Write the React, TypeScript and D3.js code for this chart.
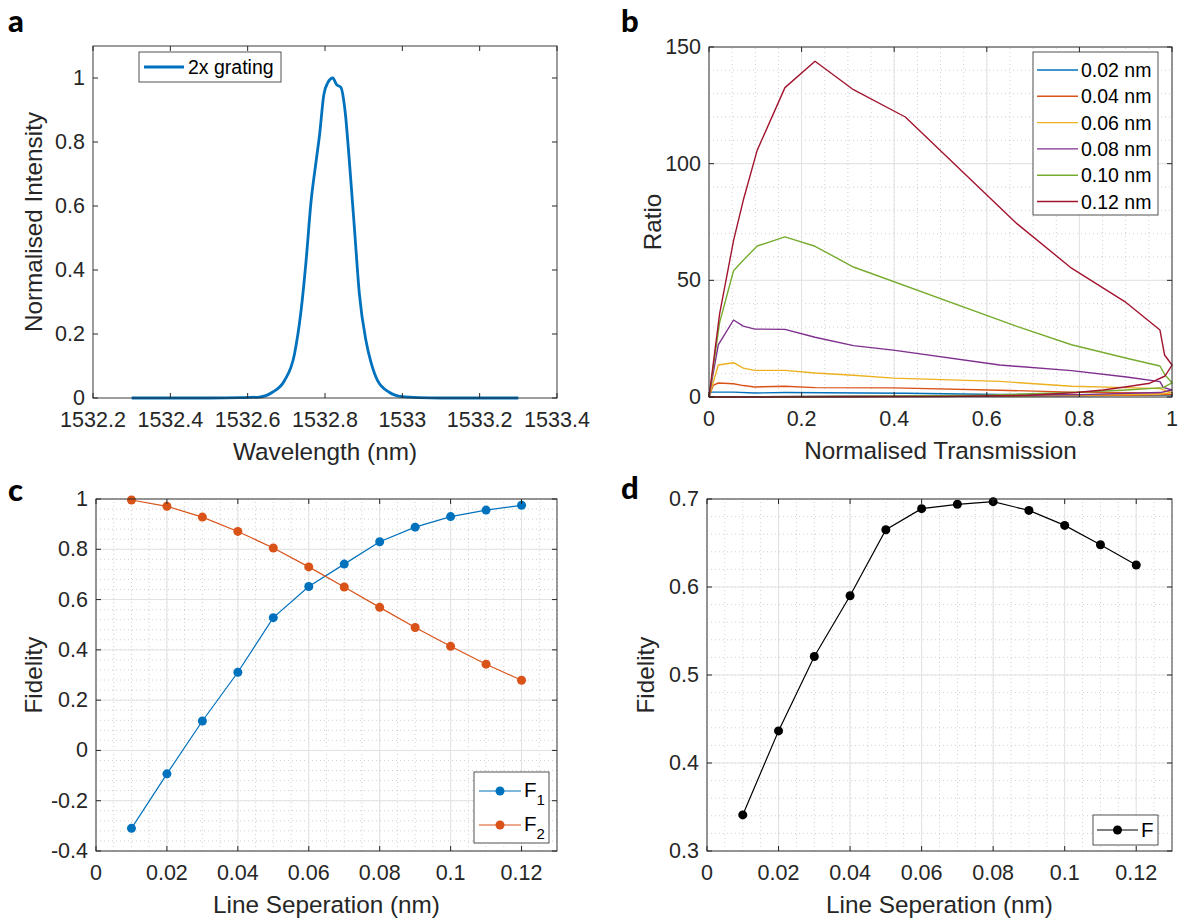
import React, { useRef, useEffect } from 'react'
import * as d3 from 'd3'

const W = 1180
const H = 924
const FONT = "Arial, 'Liberation Sans', Helvetica, sans-serif"
const INK = '#262626'

// ---- panel a: spectrum of the 2x grating
const wavelength = [
  1532.3, 1532.4, 1532.5, 1532.58, 1532.63, 1532.664, 1532.695, 1532.721, 1532.738, 1532.751,
  1532.764, 1532.777, 1532.786, 1532.797, 1532.807, 1532.82, 1532.83, 1532.841, 1532.852,
  1532.863, 1532.876, 1532.889, 1532.906, 1532.919, 1532.936, 1532.966, 1533.0, 1533.043,
  1533.1, 1533.2, 1533.3,
]
const intensity = [
  0, 0, 0, 0.001, 0.003, 0.018, 0.054, 0.137, 0.272, 0.428, 0.615, 0.74, 0.823, 0.948, 0.985,
  1.0, 0.979, 0.971, 0.896, 0.74, 0.532, 0.324, 0.179, 0.111, 0.054, 0.018, 0.004, 0.001, 0, 0, 0,
]
const aXTicks = [1532.2, 1532.4, 1532.6, 1532.8, 1533, 1533.2, 1533.4]
const aYTicks = [0, 0.2, 0.4, 0.6, 0.8, 1]

// ---- panel b: ratio vs normalised transmission, one loop per line separation
const trans002 = [0, 0.004, 0.053, 0.099, 0.164, 0.424, 0.628, 1.0, 0.8, 0.4, 0]
const ratio002 = [0, 2.1, 2.1, 1.7, 1.9, 1.6, 1.1, 0.8, 0.6, 0.3, 0]
const trans004 = [0, 0.009, 0.02, 0.053, 0.074, 0.099, 0.164, 0.229, 0.398, 0.628, 0.783, 0.974, 1.0, 0.9, 0.5, 0]
const ratio004 = [0, 5.0, 6.0, 5.7, 4.9, 4.3, 4.6, 4.0, 3.9, 2.9, 2.1, 1.7, 1.0, 0.7, 0.3, 0]
const trans006 = [0, 0.02, 0.053, 0.074, 0.099, 0.164, 0.229, 0.312, 0.398, 0.628, 0.783, 0.902, 0.974, 1.0, 0.97, 0.7, 0.3, 0]
const ratio006 = [0, 13.7, 14.7, 12.4, 11.4, 11.4, 10.3, 9.3, 8.1, 6.7, 4.6, 4.0, 3.6, 1.9, 1.2, 0.6, 0.2, 0]
const trans008 = [0, 0.02, 0.053, 0.074, 0.099, 0.164, 0.229, 0.312, 0.398, 0.628, 0.783, 0.902, 0.974, 0.981, 1.0, 0.974, 0.8, 0.5, 0]
const ratio008 = [0, 22.3, 33.0, 30.4, 29.1, 29.0, 25.6, 22.0, 20.1, 13.7, 11.3, 8.6, 6.6, 4.1, 3.0, 1.9, 1.0, 0.4, 0]
const trans010 = [0, 0.023, 0.053, 0.074, 0.104, 0.164, 0.229, 0.312, 0.665, 0.783, 0.902, 0.974, 0.985, 1.0, 0.981, 0.902, 0.783, 0.6, 0.3, 0]
const ratio010 = [0, 32, 54.1, 58.6, 64.7, 68.6, 64.6, 55.7, 30.3, 22.4, 16.6, 13.3, 9.4, 6.1, 4.0, 3.0, 1.9, 0.8, 0.2, 0]
const trans012 = [0, 0.023, 0.053, 0.074, 0.104, 0.164, 0.229, 0.312, 0.424, 0.665, 0.783, 0.898, 0.974, 0.984, 1.0, 0.985, 0.952, 0.902, 0.851, 0.794, 0.686, 0.5, 0.2, 0]
const ratio012 = [0, 35.7, 67, 84.3, 105.7, 132.6, 143.9, 131.7, 120, 74.3, 55.2, 40.9, 28.7, 18, 13.7, 9, 5.9, 4.4, 3.0, 1.9, 0.7, 0.2, 0.05, 0]
const bLabels = ['0.02 nm', '0.04 nm', '0.06 nm', '0.08 nm', '0.10 nm', '0.12 nm']
const bColors = ['#0072BD', '#D95319', '#EDB120', '#7E2F8E', '#77AC30', '#A2142F']
const bXTicks = [0, 0.2, 0.4, 0.6, 0.8, 1]
const bYTicks = [0, 50, 100, 150]

// ---- panels c & d: fidelity vs line separation
const separation = [0.01, 0.02, 0.03, 0.04, 0.05, 0.06, 0.07, 0.08, 0.09, 0.1, 0.11, 0.12]
const fidelity1 = [-0.31, -0.093, 0.117, 0.311, 0.528, 0.652, 0.741, 0.83, 0.888, 0.93, 0.956, 0.975]
const fidelity2 = [0.996, 0.971, 0.928, 0.871, 0.805, 0.73, 0.65, 0.569, 0.489, 0.414, 0.343, 0.279]
const fidelity = [0.341, 0.4365, 0.521, 0.59, 0.665, 0.689, 0.694, 0.697, 0.687, 0.67, 0.648, 0.625]
const sepTicks = [0, 0.02, 0.04, 0.06, 0.08, 0.1, 0.12]
const cYTicks = [-0.4, -0.2, 0, 0.2, 0.4, 0.6, 0.8, 1]
const dYTicks = [0.3, 0.4, 0.5, 0.6, 0.7]

const TICK_FS = 21.5
const LABEL_FS = 24.3
const LEGEND_FS = 19.5

const fmt = (v: number) => String(+v.toFixed(6))

type Frame = {
  x: d3.ScaleLinear<number, number>
  y: d3.ScaleLinear<number, number>
  xTicks: number[]
  yTicks: number[]
  xMinor?: number
  yMinor?: number
  xLabel: string
  yLabel: string
  yLabelX: number
}

function drawGrid(svg: any, f: Frame) {
  const [x0, x1] = f.x.range()
  const [y0, y1] = f.y.range()
  const g = svg.append('g')
  const [dx0, dx1] = f.x.domain()
  const [dy0, dy1] = f.y.domain()
  if (f.xMinor) {
    d3.range(dx0, dx1 + 1e-9, f.xMinor).forEach((v) => {
      g.append('line').attr('x1', f.x(v)).attr('x2', f.x(v)).attr('y1', y0).attr('y2', y1)
        .attr('stroke', '#c4c4c4').attr('stroke-width', 0.8).attr('stroke-dasharray', '1,3')
    })
  }
  if (f.yMinor) {
    d3.range(dy0, dy1 + 1e-9, f.yMinor).forEach((v) => {
      g.append('line').attr('x1', x0).attr('x2', x1).attr('y1', f.y(v)).attr('y2', f.y(v))
        .attr('stroke', '#c4c4c4').attr('stroke-width', 0.8).attr('stroke-dasharray', '1,3')
    })
  }
  if (f.xMinor || f.yMinor) {
    f.xTicks.forEach((v) => {
      g.append('line').attr('x1', f.x(v)).attr('x2', f.x(v)).attr('y1', y0).attr('y2', y1)
        .attr('stroke', '#e2e2e2').attr('stroke-width', 1)
    })
    f.yTicks.forEach((v) => {
      g.append('line').attr('x1', x0).attr('x2', x1).attr('y1', f.y(v)).attr('y2', f.y(v))
        .attr('stroke', '#e2e2e2').attr('stroke-width', 1)
    })
  }
}

function drawAxes(svg: any, f: Frame) {
  const [x0, x1] = f.x.range()
  const [y0, y1] = f.y.range()
  const g = svg.append('g').attr('font-family', FONT).attr('fill', INK)
  const tl = 5
  f.xTicks.forEach((v) => {
    const px = f.x(v)
    g.append('line').attr('x1', px).attr('x2', px).attr('y1', y0).attr('y2', y0 - tl).attr('stroke', INK)
    g.append('line').attr('x1', px).attr('x2', px).attr('y1', y1).attr('y2', y1 + tl).attr('stroke', INK)
    g.append('text').attr('x', px).attr('y', y0 + 29).attr('text-anchor', 'middle')
      .attr('font-size', TICK_FS).text(fmt(v))
  })
  f.yTicks.forEach((v) => {
    const py = f.y(v)
    g.append('line').attr('x1', x0).attr('x2', x0 + tl).attr('y1', py).attr('y2', py).attr('stroke', INK)
    g.append('line').attr('x1', x1).attr('x2', x1 - tl).attr('y1', py).attr('y2', py).attr('stroke', INK)
    g.append('text').attr('x', x0 - 8).attr('y', py + 7).attr('text-anchor', 'end')
      .attr('font-size', TICK_FS).text(fmt(v))
  })
  g.append('rect').attr('x', x0).attr('y', y1).attr('width', x1 - x0).attr('height', y0 - y1)
    .attr('fill', 'none').attr('stroke', INK).attr('stroke-width', 0.9)
  g.append('text').attr('x', (x0 + x1) / 2).attr('y', y0 + 62).attr('text-anchor', 'middle')
    .attr('font-size', LABEL_FS).text(f.xLabel)
  g.append('text')
    .attr('transform', `translate(${f.yLabelX},${(y0 + y1) / 2}) rotate(-90)`)
    .attr('text-anchor', 'middle').attr('font-size', LABEL_FS).text(f.yLabel)
}

function legendBox(svg: any, x: number, y: number, w: number, h: number) {
  svg.append('rect').attr('x', x).attr('y', y).attr('width', w).attr('height', h)
    .attr('fill', '#fff').attr('stroke', INK).attr('stroke-width', 0.8)
}

function panelLetter(svg: any, x: number, y: number, t: string) {
  svg.append('text').attr('x', x).attr('y', y).attr('font-family', "Lato, 'Open Sans', sans-serif")
    .attr('font-weight', 900).attr('font-size', 31).attr('fill', '#000').text(t)
}

export default function App() {
  const ref = useRef<SVGSVGElement>(null)

  useEffect(() => {
    const svg = d3.select(ref.current)
    svg.selectAll('*').remove()
    svg.append('rect').attr('width', W).attr('height', H).attr('fill', '#fff')

    // ---------- a
    const ax = d3.scaleLinear().domain([1532.2, 1533.4]).range([93, 557])
    const ay = d3.scaleLinear().domain([0, 1.1]).range([398, 46])
    const fa: Frame = { x: ax, y: ay, xTicks: aXTicks, yTicks: aYTicks, xLabel: 'Wavelength (nm)', yLabel: 'Normalised Intensity', yLabelX: 42 }
    drawGrid(svg, fa)
    const lineA = d3.line<number>().x((_, i) => ax(wavelength[i])).y((d) => ay(d)).curve(d3.curveMonotoneX)
    svg.append('path').attr('d', lineA(intensity)).attr('fill', 'none').attr('stroke', '#0072BD')
      .attr('stroke-width', 2.8).attr('stroke-linejoin', 'round')
    drawAxes(svg, fa)
    legendBox(svg, 139, 52, 142, 30)
    svg.append('line').attr('x1', 144).attr('x2', 184).attr('y1', 67).attr('y2', 67)
      .attr('stroke', '#0072BD').attr('stroke-width', 2.8)
    svg.append('text').attr('x', 188).attr('y', 74).attr('font-family', FONT).attr('font-size', LEGEND_FS)
      .attr('fill', '#000').text('2x grating')

    // ---------- b
    const bx = d3.scaleLinear().domain([0, 1]).range([709, 1172])
    const by = d3.scaleLinear().domain([0, 150]).range([397, 47])
    const fb: Frame = { x: bx, y: by, xTicks: bXTicks, yTicks: bYTicks, xMinor: 0.05, yMinor: 10, xLabel: 'Normalised Transmission', yLabel: 'Ratio', yLabelX: 661 }
    drawGrid(svg, fb)
    const bTrans = [trans002, trans004, trans006, trans008, trans010, trans012]
    const bRatio = [ratio002, ratio004, ratio006, ratio008, ratio010, ratio012]
    bRatio.forEach((r, s) => {
      const ln = d3.line<number>().x((_, i) => bx(bTrans[s][i])).y((d) => by(d))
      svg.append('path').attr('d', ln(r)).attr('fill', 'none').attr('stroke', bColors[s])
        .attr('stroke-width', 1.4).attr('stroke-linejoin', 'round')
    })
    drawAxes(svg, fb)
    legendBox(svg, 1033, 52, 125, 163)
    bLabels.forEach((lab, i) => {
      const yy = 70 + i * 26.3
      svg.append('line').attr('x1', 1037).attr('x2', 1078).attr('y1', yy).attr('y2', yy)
        .attr('stroke', bColors[i]).attr('stroke-width', 1.4)
      svg.append('text').attr('x', 1081).attr('y', yy + 7).attr('font-family', FONT)
        .attr('font-size', LEGEND_FS).attr('fill', '#000').text(lab)
    })

    // ---------- c
    const cx = d3.scaleLinear().domain([0, 0.13]).range([96, 557])
    const cy = d3.scaleLinear().domain([-0.4, 1]).range([851, 499])
    const fc: Frame = { x: cx, y: cy, xTicks: sepTicks, yTicks: cYTicks, xMinor: 0.005, yMinor: 0.04, xLabel: 'Line Seperation (nm)', yLabel: 'Fidelity', yLabelX: 42 }
    drawGrid(svg, fc)
    const cSeries = [
      { vals: fidelity1, color: '#0072BD' },
      { vals: fidelity2, color: '#D95319' },
    ]
    cSeries.forEach((s) => {
      const ln = d3.line<number>().x((_, i) => cx(separation[i])).y((d) => cy(d))
      svg.append('path').attr('d', ln(s.vals)).attr('fill', 'none').attr('stroke', s.color).attr('stroke-width', 1.2)
      s.vals.forEach((v, i) => {
        svg.append('circle').attr('cx', cx(separation[i])).attr('cy', cy(v)).attr('r', 4.5).attr('fill', s.color)
      })
    })
    drawAxes(svg, fc)
    legendBox(svg, 474, 772, 75, 71)
    ;['1', '2'].forEach((sub, i) => {
      const yy = 791 + i * 34
      const col = cSeries[i].color
      svg.append('line').attr('x1', 479).attr('x2', 521).attr('y1', yy).attr('y2', yy).attr('stroke', col).attr('stroke-width', 1.2)
      svg.append('circle').attr('cx', 500).attr('cy', yy).attr('r', 4.5).attr('fill', col)
      const t = svg.append('text').attr('x', 524).attr('y', yy + 6).attr('font-family', FONT)
        .attr('font-size', LEGEND_FS + 1).attr('fill', '#000')
      t.append('tspan').text('F')
      t.append('tspan').attr('dy', 8).attr('font-size', 15).text(sub)
    })

    // ---------- d
    const dx = d3.scaleLinear().domain([0, 0.13]).range([707, 1172])
    const dy = d3.scaleLinear().domain([0.3, 0.7]).range([851, 499])
    const fd: Frame = { x: dx, y: dy, xTicks: sepTicks, yTicks: dYTicks, xMinor: 0.005, yMinor: 0.02, xLabel: 'Line Seperation (nm)', yLabel: 'Fidelity', yLabelX: 654 }
    drawGrid(svg, fd)
    const lnD = d3.line<number>().x((_, i) => dx(separation[i])).y((d) => dy(d))
    svg.append('path').attr('d', lnD(fidelity)).attr('fill', 'none').attr('stroke', '#000').attr('stroke-width', 1.2)
    fidelity.forEach((v, i) => {
      svg.append('circle').attr('cx', dx(separation[i])).attr('cy', dy(v)).attr('r', 4.5).attr('fill', '#000')
    })
    drawAxes(svg, fd)
    legendBox(svg, 1093, 815, 65, 30)
    svg.append('line').attr('x1', 1097).attr('x2', 1138).attr('y1', 830).attr('y2', 830).attr('stroke', '#000').attr('stroke-width', 1.2)
    svg.append('circle').attr('cx', 1117.5).attr('cy', 830).attr('r', 4.5).attr('fill', '#000')
    svg.append('text').attr('x', 1141).attr('y', 837).attr('font-family', FONT).attr('font-size', LEGEND_FS + 1).attr('fill', '#000').text('F')

    panelLetter(svg, 8, 32, 'a')
    panelLetter(svg, 621, 32, 'b')
    panelLetter(svg, 8, 501, 'c')
    panelLetter(svg, 621, 499, 'd')
  }, [])

  return <svg ref={ref} width={W} height={H} style={{ position: 'absolute', left: 0, top: 0 }} />
}
